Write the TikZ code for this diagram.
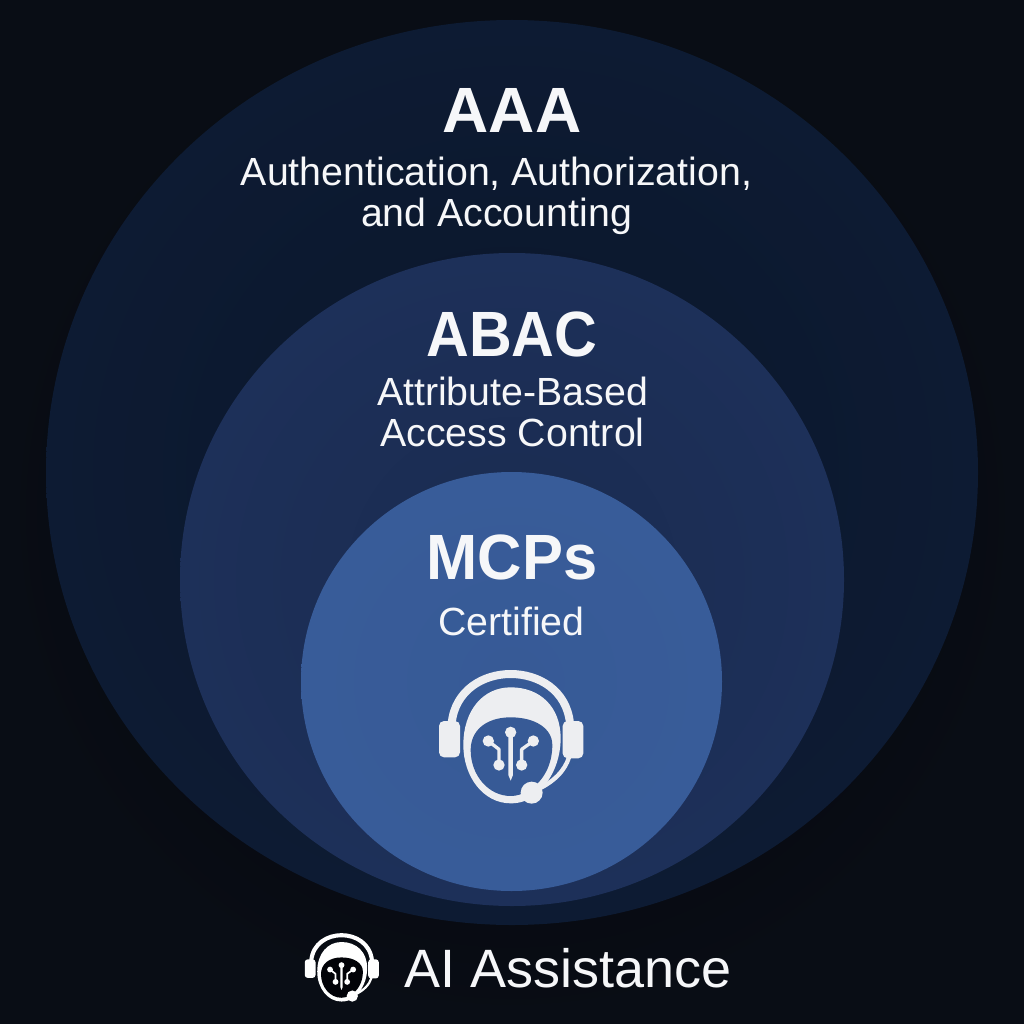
\documentclass[tikz,border=0pt]{standalone}
\usepackage{fontspec}
\setmainfont{Liberation Sans}
\usetikzlibrary{shapes.geometric}
\definecolor{bgin}{HTML}{020308}
\definecolor{bgout}{HTML}{090D15}
\definecolor{outerc}{HTML}{0B162A}
\definecolor{outerrim}{HTML}{0D1B33}
\definecolor{midc}{HTML}{1A2B50}
\definecolor{midrim}{HTML}{1D3059}
\definecolor{innerc}{HTML}{375A96}
\definecolor{innerrim}{HTML}{385C99}
\definecolor{holec}{HTML}{375A96}
\definecolor{iconc}{HTML}{EDEEF1}
\definecolor{textc}{HTML}{F6F7F9}
\tikzset{
  ring/.style={ellipse,inner sep=0pt,outer sep=0pt,shading=radial},
  head/.style={text=textc,font=\fontsize{64}{64}\selectfont\bfseries,inner sep=0pt,anchor=center},
  narrow/.style={xscale=#1,transform shape},
  sub/.style={text=textc,font=\fontsize{39.3}{41}\selectfont,align=center,inner sep=0pt,anchor=center},
}
\newcommand{\aiicon}[5]{%
\begin{scope}[shift={(#1,#2)},x=#3pt,y=-#3pt,line cap=round,line join=round]
  % ear cups
  \fill[#4,rounded corners=#5] (57,183) rectangle (120,292);
  \fill[#4,rounded corners=#5] (428,183) rectangle (490,295);
  % head band
  \draw[#4,line width=#3*24pt,line cap=butt] (95,190) .. controls (105,90) and (190,42) .. (272,42) .. controls (355,42) and (440,90) .. (450,190);
  % head
  \fill[#4] (272,82) .. controls (360,82) and (422,140) .. (422,235) .. controls (422,300) and (395,365) .. (345,405) .. controls (320,425) and (295,430) .. (272,430) .. controls (190,430) and (130,350) .. (130,255) .. controls (130,150) and (190,82) .. (272,82) -- cycle;
  \fill[holecolor] (272,172) .. controls (345,172) and (397,205) .. (397,255) .. controls (397,315) and (370,365) .. (325,392) .. controls (305,403) and (290,408) .. (272,408) .. controls (205,408) and (152,345) .. (152,270) .. controls (152,210) and (200,172) .. (272,172) -- cycle;
  % mic arm
  \draw[#4,line width=#3*13pt] (447,292) .. controls (435,330) and (405,365) .. (345,392);
  \fill[#4] (335,398) circle[radius=33];
  % circuit
  \fill[#4] (265,225) -- (279,225) -- (279,345) -- (272,362) -- (265,345) -- cycle;
  \fill[#4] (272,217) circle[radius=17];
  \draw[#4,line width=#3*10pt] (205,243) -- (237,268) -- (237,315);
  \draw[#4,line width=#3*10pt] (340,243) -- (305,268) -- (305,315);
  \fill[#4] (205,243) circle[radius=17] (237,315) circle[radius=17] (340,243) circle[radius=17] (305,315) circle[radius=17];
\end{scope}}
\begin{document}
\begin{tikzpicture}[x=1pt,y=-1pt]
\useasboundingbox (0,0) rectangle (1024,1024);
\fill[inner color=bgin,outer color=bgout] (0,0) rectangle (1024,1024);
\node[ring,minimum width=932pt,minimum height=905pt,inner color=outerc,outer color=outerrim] (outer) at (512,472.5) {};
\node[ring,minimum width=664pt,minimum height=653pt,inner color=midc,outer color=midrim] (middle) at (512,579.5) {};
\node[ring,minimum width=421pt,minimum height=419pt,inner color=innerc,outer color=innerrim] (inner) at (511.5,681.5) {};
\node[head] (aaa) at (512,110) {AAA};
\node[sub] (aaasub) at (496.5,196) {Authentication, Authorization,\\and Accounting};
\node[head,narrow=0.925] (abac) at (512,334) {ABAC};
\node[sub] (abacsub) at (512.5,412) {Attribute-Based\\Access Control};
\node[head,narrow=0.96] (mcps) at (512,557) {MCPs};
\node[sub] (cert) at (511.5,621) {Certified};
\colorlet{holecolor}{holec}
\aiicon{420}{660}{0.3333}{iconc}{5pt}
\colorlet{holecolor}{bgin}
\aiicon{295}{928}{0.171}{white}{3pt}
\node[text=textc,font=\fontsize{54}{54}\selectfont,inner sep=0pt,anchor=west] (assist) at (404,968) {AI Assistance};
\end{tikzpicture}
\end{document}
